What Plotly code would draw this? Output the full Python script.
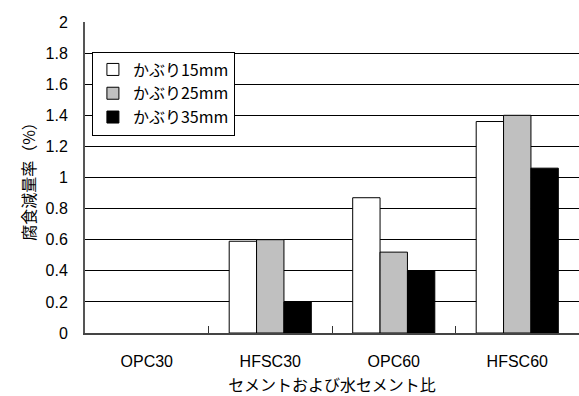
import plotly.graph_objects as go

categories = ["OPC30", "HFSC30", "OPC60", "HFSC60"]
series_names = ["かぶり15mm", "かぶり25mm", "かぶり35mm"]
cover15 = [0.0, 0.59, 0.87, 1.36]
cover25 = [0.0, 0.60, 0.52, 1.40]
cover35 = [0.0, 0.20, 0.40, 1.06]
colors = ["#FFFFFF", "#C0C0C0", "#000000"]

font_main = "Liberation Sans, Arial, Noto Sans CJK JP, sans-serif"
font_cjk = "Noto Sans CJK JP, sans-serif"

fig = go.Figure()
for name, vals, col in zip(series_names, [cover15, cover25, cover35], colors):
    fig.add_trace(go.Bar(
        x=categories, y=vals, name=name, legendgroup=name, showlegend=False,
        marker=dict(color=col,
                    line=dict(color="#000000", width=[0 if v == 0 else 1 for v in vals])),
    ))
# legend entries (drawn on an invisible overlay axis so they do not shift the bars)
for name, col in zip(series_names, colors):
    fig.add_trace(go.Bar(
        x=[None], y=[None], name=name, legendgroup=name, showlegend=True,
        xaxis="x2", yaxis="y2",
        marker=dict(color=col, line=dict(color="#000000", width=1)),
    ))

fig.update_layout(
    width=579, height=396,
    margin=dict(l=85, r=0, t=22, b=63),
    paper_bgcolor="white", plot_bgcolor="white",
    barmode="group", bargap=0.335, bargroupgap=0,
    font=dict(family=font_main, size=16, color="#000000"),
    showlegend=True,
    legend=dict(
        x=0.014, y=0.905, xanchor="left", yanchor="top",
        bordercolor="#000000", borderwidth=1, bgcolor="white",
        font=dict(family=font_cjk, size=16, color="#000000"),
        tracegroupgap=0, itemwidth=30,
    ),
    xaxis=dict(
        showline=True, linecolor="#444444", linewidth=2,
        ticks="inside", tickson="boundaries", ticklen=7, tickcolor="#333333",
        tickfont=dict(family=font_main, size=16),
        ticklabelstandoff=13, automargin=False,
        title=dict(text="セメントおよび水セメント比", font=dict(family=font_cjk, size=16), standoff=17),
        showgrid=False, zeroline=False, layer="above traces",
    ),
    yaxis=dict(
        range=[0, 2], tick0=0, dtick=0.2,
        showline=True, linecolor="#555555", linewidth=2,
        showgrid=True, gridcolor="#000000", gridwidth=1,
        zeroline=False, ticks="",
        tickfont=dict(family=font_main, size=16),
        ticklabelstandoff=12, automargin=False,
        title=dict(text="腐食減量率（%）", font=dict(family=font_cjk, size=16), standoff=6),
    ),
    xaxis2=dict(overlaying="x", visible=False, showgrid=False, zeroline=False),
    yaxis2=dict(overlaying="y", visible=False, showgrid=False, zeroline=False),
)

fig.write_html("out.html")
